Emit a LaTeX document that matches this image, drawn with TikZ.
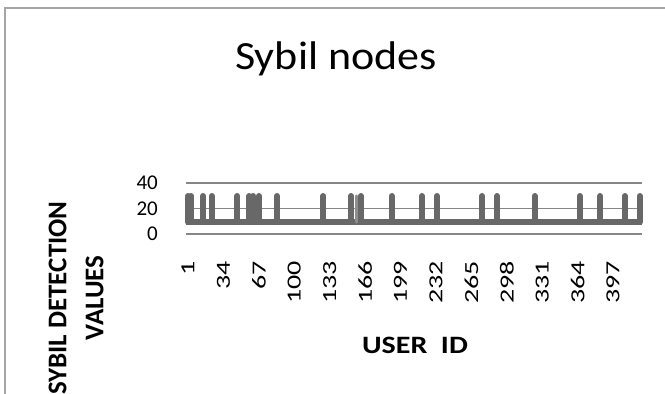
\documentclass[tikz,border=0pt]{standalone}
\usepackage{fontspec}
\setmainfont{Carlito}

\definecolor{framegray}{RGB}{165,165,165}
\definecolor{gridgray}{RGB}{134,134,134}
\definecolor{seriesgray}{RGB}{104,104,104}

\tikzset{
  gridline/.style={gridgray, line width=1.4pt},
  spike/.style={seriesgray, line width=6pt, line cap=round},
  ticklabel/.style={font=\fontsize{21}{21}\selectfont, inner sep=0pt},
  axistitle/.style={font=\fontsize{25}{37}\selectfont\bfseries, inner sep=0pt, align=center},
}

\begin{document}
\begin{tikzpicture}[x=1pt, y=-1pt]

    \useasboundingbox (0,0) rectangle (665,394);

    % chart frame
    \draw[framegray, line width=2.2pt] (5,394) -- (5,8) -- (665,8);

    \node[anchor=base, inner sep=0pt, font=\fontsize{40}{40}\selectfont] (title) at (336,69) {\scalebox{1.1}[1]{Sybil nodes}};

    % gridlines and value labels
    \foreach \v/\yy in {0/234, 20/208.5, 40/183} {
        \draw[gridline] (186,\yy) -- (642,\yy);
        \node[ticklabel, anchor=east] (ylab\v) at (158,\yy) {\v};
    }

    % detection values
    \fill[seriesgray] (186,218.5) rectangle (642,225);
    \foreach \i in {1,4,15,23,47,58,62,67,84,127,153,162,191,219,233,275,289,324,366,385,408,422} {
        \pgfmathsetmacro{\px}{188+(\i-1)*1.0732}
        \draw[spike] (\px,222) -- (\px,196);
    }
    \draw[seriesgray!75, line width=3.5pt, line cap=round] ({188+157*1.0732},222) -- ++(0,-26);

    % user id labels
    \foreach \n in {1,34,...,397} {
        \pgfmathsetmacro{\px}{188+(\n-1)*1.0732}
        \node[ticklabel, font=\fontsize{20}{20}\selectfont, rotate=90, anchor=east] (xlab\n) at (\px,261) {\scalebox{1.4}[1]{\n}};
    }

    \node[axistitle, anchor=base] (xtitle) at (415,353) {\scalebox{1.2}[1]{USER\ \ ID}};
    \node[axistitle, font=\fontsize{27}{37}\selectfont\bfseries, rotate=90] (ytitle) at (76,298) {SYBIL DETECTION\\VALUES};

\end{tikzpicture}
\end{document}
